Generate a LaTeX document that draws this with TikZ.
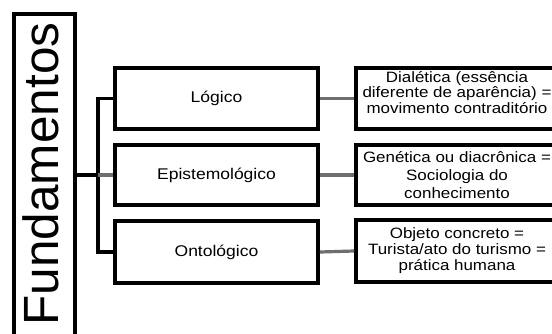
\documentclass[tikz,border=0pt]{standalone}
\usepackage{fontspec}
\setmainfont{Liberation Sans}
\newfontfamily\boxfont[FakeStretch=1.13]{Liberation Sans}
\begin{document}
\begin{tikzpicture}[x=1pt,y=-1pt,
  box/.style={draw=black, line width=3.8pt, fill=white, minimum width=203pt, inner sep=0pt, align=center, font=\boxfont\fontsize{15}{15}\selectfont},
  link/.style={line width=3.8pt, black},
  glink/.style={line width=3.2pt, color={rgb,255:red,110;green,110;blue,110}}]
\useasboundingbox (0,0) rectangle (552,333);
\fill[white] (0,0) rectangle (552,333);
% Fundamentos box
\node[draw=black, line width=3.8pt, minimum width=61pt, minimum height=346pt, inner sep=0pt] (fund) at (44.5,187) {};
\node[rotate=90, inner sep=0pt, font=\fontsize{49.5}{49.5}\selectfont] (fundtxt) at (40.5,174) {Fundamentos};
% middle boxes
\node[box, minimum height=61pt, font=\boxfont\fontsize{15.5}{15.5}\selectfont] (lg) at (216.5,98.5) {Lógico};
\node[box, minimum height=60pt, font=\boxfont\fontsize{15.5}{15.5}\selectfont] (ep) at (216.5,175) {Epistemológico};
\node[box, minimum height=62pt, font=\boxfont\fontsize{15.5}{15.5}\selectfont] (on) at (216.5,252) {Ontológico};
% right boxes
\node[box, minimum width=202pt, minimum height=61pt] (rlg) at (457,98.5) {};
\node[inner sep=0pt, align=center, font=\boxfont\fontsize{15}{13.5}\selectfont] (rlgtxt) at (457,92.5) {Dialética (essência\\diferente de aparência) =\\movimento contraditório};
\node[box, minimum width=202pt, minimum height=60pt, font=\boxfont\fontsize{15}{18}\selectfont] (rep) at (457,175) {Genética ou diacrônica =\\Sociologia do\\conhecimento};
\node[box, minimum width=202pt, minimum height=62pt, font=\boxfont\fontsize{15}{16}\selectfont] (ron) at (457,251) {Objeto concreto =\\Turista/ato do turismo =\\prática humana};
% trunk
\coordinate (t) at (98,175);
\draw[link] (fund.east |- t) -- (t);
\draw[link, line cap=rect] (lg.west) -| (t);
\draw[link, line cap=rect] (on.west) -| (t);
\draw[glink] (t) -- (ep.west);
% right connectors
\draw[glink] (lg.east) -- (rlg.west);
\draw[glink] (ep.east) -- (rep.west);
\draw[glink] (on.east) -- (ron.west);
\end{tikzpicture}
\end{document}
